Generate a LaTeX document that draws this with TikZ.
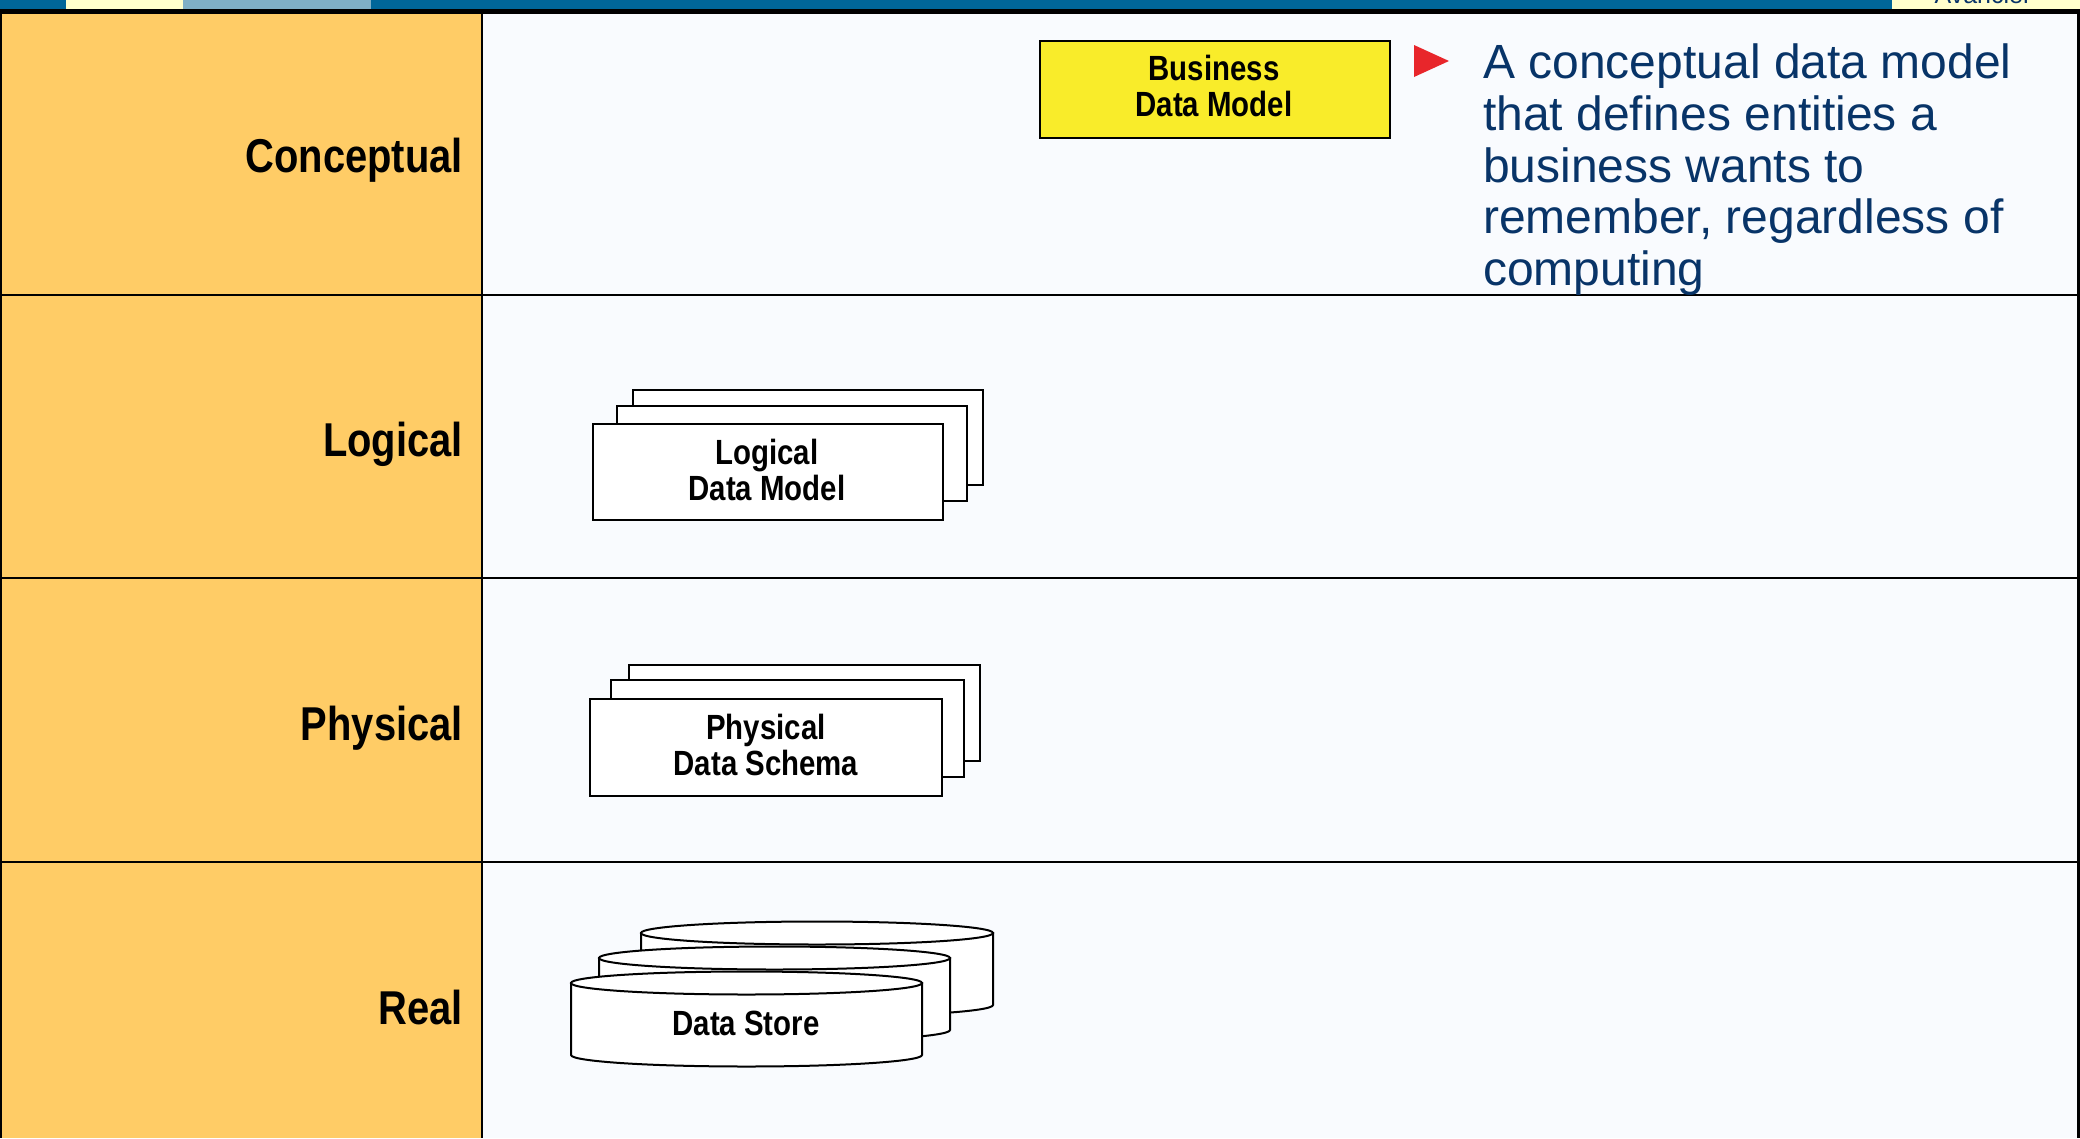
\documentclass[tikz,border=0pt]{standalone}
\usepackage{fontspec}
\setmainfont{Liberation Sans}
\newfontfamily\narrowsans[FakeStretch=0.84]{Liberation Sans}

\definecolor{barblue}{RGB}{0,102,153}
\definecolor{barpale}{RGB}{255,255,204}
\definecolor{barsteel}{RGB}{127,175,198}
\definecolor{tierfill}{RGB}{255,204,102}
\definecolor{canvasfill}{RGB}{249,251,254}
\definecolor{notered}{RGB}{232,38,43}
\definecolor{notetext}{RGB}{8,52,104}
\definecolor{bizyellow}{RGB}{249,236,42}

% a stack-front drum: left, right, top-centre y, bottom-centre y
\newcommand\drumshape[4]{%
  \pgfmathsetmacro\drumcx{(#1+#2)/2}%
  \pgfmathsetmacro\drumrx{(#2-#1)/2}%
  \def\drumry{11.5}%
  \filldraw[sheet] (#1,#3) -- (#1,#4)
    .. controls (#1,#4+0.552*\drumry) and (\drumcx-0.552*\drumrx,#4+\drumry) .. (\drumcx,#4+\drumry)
    .. controls (\drumcx+0.552*\drumrx,#4+\drumry) and (#2,#4+0.552*\drumry) .. (#2,#4)
    -- (#2,#3) -- cycle;
  \filldraw[sheet] (\drumcx,#3) ellipse [x radius=\drumrx, y radius=\drumry];
}

\begin{document}
\begin{tikzpicture}[x=1pt,y=-1pt,
  tierlabel/.style={anchor=base east, inner sep=0,
    font=\narrowsans\bfseries\fontsize{47.5}{52}\selectfont},
  boxtext/.style={align=center, inner sep=0,
    font=\narrowsans\bfseries\fontsize{35}{36}\selectfont},
  sheet/.style={draw=black, line width=2pt, fill=white},
  gridline/.style={draw=black, line width=2pt}]

\useasboundingbox (0,0) rectangle (2080,1138);

% header strip
\fill[barblue] (0,0) rectangle (2080,10);
\fill[barpale] (66,0) rectangle (183,10);
\fill[barsteel] (183,0) rectangle (371,10);
\fill[barpale] (1892,0) rectangle (2080,10);
\begin{scope}
  \clip (1892,0) rectangle (2080,9);
  \node[anchor=base, inner sep=0, text=notetext,
        font=\fontsize{25}{28}\selectfont] (brand) at (1983,3.5) {Avancier};
\end{scope}

% table body
\fill[canvasfill] (481,12) rectangle (2077,1138);
\fill[tierfill] (0,12) rectangle (481,1138);

\draw[gridline] (0,294.5) -- (2078,294.5);
\draw[gridline] (0,578) -- (2078,578);
\draw[gridline] (0,862) -- (2078,862);
\draw[gridline] (481.5,11.5) -- (481.5,1138);
\draw[gridline] (1,11.5) -- (1,1138);
\draw[draw=black, line width=3pt] (2078.5,11.5) -- (2078.5,1138);
\draw[draw=black, line width=5pt] (0,11.5) -- (2080,11.5);

% tier names
\node[tierlabel] (conceptual) at (463,172) {Conceptual};
\node[tierlabel] (logical) at (463,456) {Logical};
\node[tierlabel] (physical) at (463,740) {Physical};
\node[tierlabel] (real) at (463,1024) {Real};

% conceptual tier
\node[draw=black, line width=2pt, fill=bizyellow, inner sep=0,
      minimum width=350, minimum height=97] (business) at (1215,89.5) {};
\node[boxtext] (businesstext) at (1214,86) {Business\\Data Model};
\fill[notered] (1414,45) -- (1449,61) -- (1414,77) -- cycle;
\node[anchor=north west, align=left, inner sep=0, text=notetext,
      font=\fontsize{48}{51.8}\selectfont] (note) at (1483,43.5)
      {A conceptual data model\\that defines entities a\\business wants to\\remember, regardless of\\computing};

% logical tier
\draw[sheet] (633,390) rectangle (983,485);
\draw[sheet] (617,406) rectangle (967,501);
\draw[sheet] (593,424) rectangle (943,520);
\node[boxtext] (ldm) at (767,470) {Logical\\Data Model};

% physical tier
\draw[sheet] (629,665) rectangle (980,761);
\draw[sheet] (611,680) rectangle (964,777);
\draw[sheet] (590,699) rectangle (942,796);
\node[boxtext] (pds) at (766,745) {Physical\\Data Schema};

% real tier
\drumshape{641}{993}{933}{1005}
\drumshape{599}{950}{958}{1030}
\drumshape{571}{922}{983}{1055}
\node[boxtext] (store) at (746,1023) {Data Store};

\end{tikzpicture}
\end{document}
